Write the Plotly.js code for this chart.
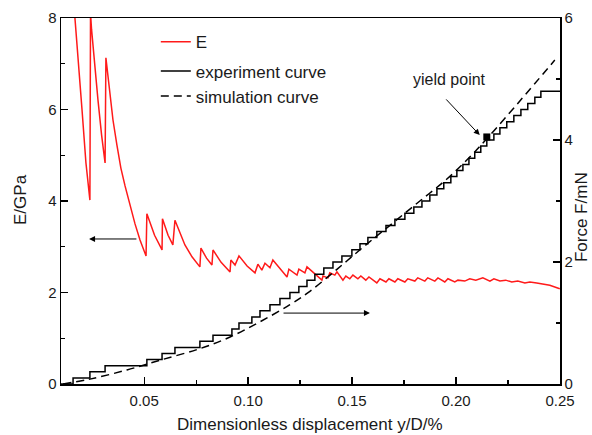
<!DOCTYPE html>
<html>
<head>
<meta charset="utf-8">
<script src="https://cdn.plot.ly/plotly-3.0.1.min.js"></script>
<style>html,body{margin:0;padding:0;background:#fff;}#chart{width:592px;height:435px;}</style>
</head>
<body>
<div id="chart"></div>
<script>
// Elastic modulus E (GPa) vs dimensionless displacement
const eX = [0.0160,0.0167,0.0201,0.0220,0.0239,0.0242,0.0247,0.0262,0.0278,0.0295,0.0312,
  0.0316,0.0336,0.0350,0.0369,0.0388,0.0408,0.0432,0.0456,0.0480,0.0509,
  0.0513,0.0550,0.0586,0.0588,0.0615,0.0638,0.0648,0.0696,0.0730,0.0768,0.0773,0.0800,0.0826,0.0831,0.0870,0.0913,
  0.0917,0.0937,0.0956,0.0995,0.1033,0.1047,0.1066,0.1081,0.1105,0.1119,0.1187,0.1196,0.1235,0.1244,0.1273,0.1283,
  0.1355,0.1360,0.1384,0.1393,0.1417,0.1427,0.1456,0.1470,0.1489,0.1504,0.1528,0.1542,0.1566,0.1581,0.1619,0.1634,
  0.1663,0.1677,0.1706,0.1720,0.1754,0.1768,0.1802,0.1816,0.1850,0.1864,0.1898,0.1913,0.1946,0.1961,0.1994,0.2009,
  0.2042,0.2066,0.2095,0.2129,0.2163,0.2182,0.2211,0.2239,0.2268,0.2297,0.2331,0.2355,0.2388,0.2422,0.2451,0.2499];
const eVal = [8.6,8.0,6.0,4.83,4.02,8.1,7.75,6.95,6.2,5.45,4.83,
  7.13,6.27,5.77,5.22,4.72,4.33,3.89,3.50,3.15,2.80,
  3.72,3.25,2.93,3.61,3.25,3.04,3.58,3.04,2.78,2.56,2.97,2.75,2.60,2.93,2.66,2.45,
  2.71,2.60,2.80,2.58,2.43,2.62,2.49,2.64,2.54,2.71,2.34,2.51,2.38,2.51,2.43,2.56,
  2.27,2.36,2.32,2.43,2.38,2.45,2.27,2.36,2.30,2.38,2.30,2.36,2.27,2.34,2.21,2.30,
  2.23,2.30,2.23,2.30,2.23,2.30,2.25,2.32,2.25,2.32,2.25,2.32,2.23,2.30,2.23,2.27,
  2.25,2.30,2.27,2.32,2.25,2.30,2.25,2.27,2.23,2.25,2.21,2.23,2.21,2.19,2.16,2.08];

// Experiment curve (force, mN) - stepwise
const expX = [0.0100,0.0158,0.0239,0.0312,0.0513,0.0586,0.0648,0.0768,0.0831,0.0922,0.0956,0.1018,0.1057,0.1105,
  0.1153,0.1201,0.1244,0.1283,0.1321,0.1364,0.1408,0.1451,0.1499,0.1538,0.1576,0.1619,0.1663,0.1706,0.1754,0.1797,
  0.1836,0.1874,0.1908,0.1941,0.1975,0.2004,0.2033,0.2062,0.2090,0.2119,0.2148,0.2182,0.2211,0.2244,0.2278,0.2312,
  0.2345,0.2379,0.2408,0.2500];
const expF = [0.0,0.1,0.2,0.3,0.4,0.5,0.6,0.7,0.8,0.9,1.0,1.1,1.2,1.3,
  1.4,1.5,1.6,1.7,1.8,1.9,2.0,2.1,2.2,2.3,2.4,2.5,2.6,2.7,2.8,2.9,
  3.0,3.1,3.2,3.3,3.4,3.5,3.6,3.7,3.8,3.9,4.0,4.1,4.2,4.3,4.4,4.5,
  4.6,4.7,4.8,4.8];

// Simulation curve (force, mN)
const simX = [0.0110,0.0239,0.0417,0.0576,0.0768,0.0913,0.1057,0.1201,0.1297,0.1427,0.1552,0.1696,0.1826,0.1956,0.2066,0.2148,0.2307,0.2475];
const simF = [0.00,0.08,0.23,0.39,0.58,0.77,1.02,1.30,1.52,1.88,2.24,2.64,3.00,3.36,3.72,4.02,4.64,5.31];

// Yield point
const yieldX = [0.2148];
const yieldF = [4.05];

const FONT = '"Liberation Sans", Arial, sans-serif';
const TXT = '#1a1a1a';

const traces = [
  {x: eX, y: eVal, type: 'scatter', mode: 'lines', name: 'E', yaxis: 'y',
   line: {color: '#ff1a1a', width: 1.5}, legend: 'legend'},
  {x: expX, y: expF, type: 'scatter', mode: 'lines', name: 'experiment curve', yaxis: 'y2',
   line: {color: '#000', width: 1.5, shape: 'hv'}, legend: 'legend2'},
  {x: simX, y: simF, type: 'scatter', mode: 'lines', name: 'simulation curve', yaxis: 'y2',
   line: {color: '#000', width: 1.5, dash: '8px,5px', shape: 'spline'}, legend: 'legend2'},
  {x: yieldX, y: yieldF, type: 'scatter', mode: 'markers', yaxis: 'y2', showlegend: false,
   marker: {symbol: 'square', size: 7, color: '#000'}}
];

const layout = {
  width: 592, height: 435,
  margin: {l: 61, r: 32, t: 18, b: 51},
  paper_bgcolor: '#fff', plot_bgcolor: '#fff',
  font: {family: FONT, color: TXT, size: 15},
  showlegend: true,
  xaxis: {
    range: [0.01, 0.25], tickvals: [0.05, 0.10, 0.15, 0.20, 0.25], ticktext: ['0.05','0.10','0.15','0.20','0.25'],
    ticks: 'inside', ticklen: 7, tickwidth: 1.3, tickcolor: '#000', ticklabelstandoff: 2,
    minor: {tickvals: [0.075, 0.125, 0.175, 0.225], ticks: 'inside', ticklen: 4, tickwidth: 1.3, tickcolor: '#000'},
    showline: true, linecolor: '#000', linewidth: 1.5, mirror: true,
    showgrid: false, zeroline: false, tickfont: {size: 15, color: TXT}
  },
  yaxis: {
    range: [0, 8], tickvals: [0, 2, 4, 6, 8],
    ticks: 'inside', ticklen: 7, tickwidth: 1.3, tickcolor: '#000',
    minor: {tickvals: [1, 3, 5, 7], ticks: 'inside', ticklen: 4, tickwidth: 1.3, tickcolor: '#000'},
    showline: true, linecolor: '#000', linewidth: 1.5,
    showgrid: false, zeroline: false, tickfont: {size: 15, color: TXT}
  },
  yaxis2: {
    range: [0, 6], tickvals: [0, 2, 4, 6], overlaying: 'y', side: 'right',
    ticks: 'inside', ticklen: 7, tickwidth: 1.3, tickcolor: '#000',
    minor: {tickvals: [1, 3, 5], ticks: 'inside', ticklen: 4, tickwidth: 1.3, tickcolor: '#000'},
    showline: true, linecolor: '#000', linewidth: 1.5,
    showgrid: false, zeroline: false, tickfont: {size: 15, color: TXT}
  },
  legend: {x: 0.19, y: 0.934, xanchor: 'left', yanchor: 'middle', bgcolor: 'rgba(0,0,0,0)',
           font: {size: 17, family: FONT, color: TXT}},
  legend2: {x: 0.19, y: 0.82, xanchor: 'left', yanchor: 'middle', bgcolor: 'rgba(0,0,0,0)',
           font: {size: 17, family: FONT, color: TXT}, tracegroupgap: 0},
  annotations: [
    {text: 'Dimensionless displacement y/D/%', xref: 'paper', yref: 'paper', x: 0.499, y: -0.112,
     xanchor: 'center', yanchor: 'middle', showarrow: false, font: {size: 17, color: TXT}},
    {text: 'E/GPa', xref: 'paper', yref: 'paper', x: -0.08, y: 0.503, textangle: -90,
     xanchor: 'center', yanchor: 'middle', showarrow: false, font: {size: 17, color: TXT}},
    {text: 'Force F/mN', xref: 'paper', yref: 'paper', x: 1.042, y: 0.456, textangle: -90,
     xanchor: 'center', yanchor: 'middle', showarrow: false, font: {size: 17, color: TXT}},
    {text: 'yield point', xref: 'x', yref: 'y2', x: 0.1970, y: 5.0, xanchor: 'center', yanchor: 'middle',
     showarrow: false, font: {size: 16, color: TXT}},
    {text: '', xref: 'x', yref: 'y2', x: 0.2114, y: 4.08, axref: 'x', ayref: 'y2', ax: 0.1946, ay: 4.69,
     showarrow: true, arrowhead: 2, arrowsize: 1.2, arrowwidth: 1, arrowcolor: '#000'},
    {text: '', xref: 'x', yref: 'y', x: 0.0235, y: 3.17, axref: 'x', ayref: 'y', ax: 0.0470, ay: 3.17,
     showarrow: true, arrowhead: 2, arrowsize: 1.2, arrowwidth: 1, arrowcolor: '#000'},
    {text: '', xref: 'x', yref: 'y', x: 0.1586, y: 1.55, axref: 'x', ayref: 'y', ax: 0.1163, ay: 1.55,
     showarrow: true, arrowhead: 2, arrowsize: 1.2, arrowwidth: 1, arrowcolor: '#000'}
  ]
};

Plotly.newPlot('chart', traces, layout, {staticPlot: true, displayModeBar: false});
</script>
</body>
</html>
